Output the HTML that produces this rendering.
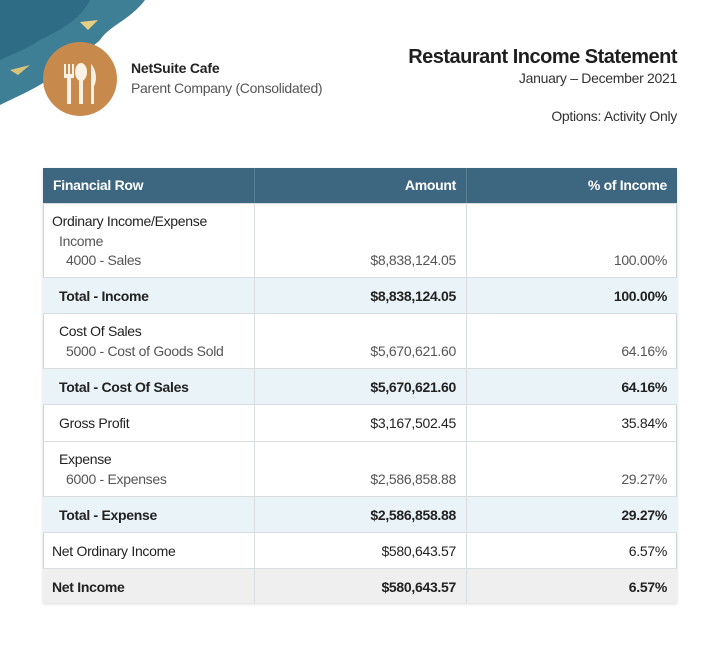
<!DOCTYPE html>
<html><head><style>
*{margin:0;padding:0;box-sizing:border-box}
body{width:720px;height:646px;background:#fff;font-family:"Liberation Sans",sans-serif;position:relative;overflow:hidden;color:#222}
.a{position:absolute;white-space:nowrap}
.row{position:absolute;left:43px;width:634px;border-top:1px solid #d8dde0}
.c{position:absolute;font-size:14px;letter-spacing:-0.3px}
.b{font-weight:bold}
</style></head><body>
<svg class="a" style="left:0;top:0" width="160" height="120">
<path d="M0 0 H145 C130 20 110 25 100 40 C90 50 75 55 60 70 C45 85 20 95 0 105 Z" fill="#3f7f95"/>
<path d="M0 0 H90 C80 20 60 30 40 40 C25 50 10 55 0 60 Z" fill="#2e6b84"/>
<path d="M80 22 L98 20 L88 30 Z" fill="#e6cf85"/>
<path d="M10 70 L30 65 L18 75 Z" fill="#d9c27a"/>
</svg>
<div class="a" style="left:43px;top:42px;width:74px;height:74px;border-radius:50%;background:#c88a4c"></div>
<svg class="a" style="left:43px;top:42px" width="74" height="74">
<g fill="#fbf1e4"><rect x="21" y="22" width="2" height="12"/><rect x="25" y="22" width="2" height="12"/><rect x="29" y="22" width="2" height="12"/><rect x="21" y="32" width="10" height="4"/><rect x="24" y="34" width="4" height="28"/>
<ellipse cx="38" cy="30" rx="6" ry="9"/><rect x="36" y="36" width="4" height="26"/>
<path d="M48 22 C54 28 54 40 51 44 V62 H48 Z"/></g></svg>
<div class="a b" style="left:131px;top:60px;font-size:14px;color:#222;letter-spacing:-0.2px">NetSuite Cafe</div>
<div class="a" style="left:131px;top:80px;font-size:14px;color:#555;letter-spacing:-0.3px">Parent Company (Consolidated)</div>
<div class="a b" style="right:43px;top:46px;font-size:20px;color:#1e1e1e;letter-spacing:-0.5px">Restaurant Income Statement</div>
<div class="a" style="right:43px;top:70px;font-size:14px;color:#333;letter-spacing:-0.3px">January – December 2021</div>
<div class="a" style="right:43px;top:108px;font-size:14px;color:#333;letter-spacing:-0.3px">Options: Activity Only</div>
<div class="a" style="left:43px;top:168px;width:634px;height:435px;border:1px solid #d0d6da;box-shadow:0 1px 3px rgba(0,0,0,.15)"></div>
<div class="a" style="left:43px;top:168px;width:634px;height:35px;background:#3d6680;color:#fff;font-size:14px;font-weight:bold;letter-spacing:-0.3px">
<span class="a" style="left:10px;top:9px">Financial Row</span>
<span class="a" style="right:221px;top:9px">Amount</span>
<span class="a" style="right:10px;top:9px">% of Income</span>
<div class="a" style="left:211px;top:0;width:1px;height:35px;background:#5b7f95"></div>
<div class="a" style="left:423px;top:0;width:1px;height:35px;background:#5b7f95"></div>
</div>

<div class="row" style="top:203px;height:74px"><span class="c a" style="left:9px;top:9px">Ordinary Income/Expense</span><span class="c a" style="left:16px;top:29px;color:#555">Income</span><span class="c a" style="left:23px;top:48px;color:#555">4000 - Sales</span><span class="c a" style="right:221px;top:48px;color:#555">$8,838,124.05</span><span class="c a" style="right:10px;top:48px;color:#555">100.00%</span></div>
<div class="row" style="top:277px;height:36px;background:#eaf3f8"><span class="c a b" style="left:16px;top:10px">Total - Income</span><span class="c a b" style="right:221px;top:10px">$8,838,124.05</span><span class="c a b" style="right:10px;top:10px">100.00%</span></div>
<div class="row" style="top:313px;height:55px"><span class="c a" style="left:16px;top:9px">Cost Of Sales</span><span class="c a" style="left:23px;top:29px;color:#555">5000 - Cost of Goods Sold</span><span class="c a" style="right:221px;top:29px;color:#555">$5,670,621.60</span><span class="c a" style="right:10px;top:29px;color:#555">64.16%</span></div>
<div class="row" style="top:368px;height:36px;background:#eaf3f8"><span class="c a b" style="left:16px;top:10px">Total - Cost Of Sales</span><span class="c a b" style="right:221px;top:10px">$5,670,621.60</span><span class="c a b" style="right:10px;top:10px">64.16%</span></div>
<div class="row" style="top:404px;height:37px"><span class="c a" style="left:16px;top:10px">Gross Profit</span><span class="c a" style="right:221px;top:10px">$3,167,502.45</span><span class="c a" style="right:10px;top:10px">35.84%</span></div>
<div class="row" style="top:441px;height:55px"><span class="c a" style="left:16px;top:9px">Expense</span><span class="c a" style="left:23px;top:29px;color:#555">6000 - Expenses</span><span class="c a" style="right:221px;top:29px;color:#555">$2,586,858.88</span><span class="c a" style="right:10px;top:29px;color:#555">29.27%</span></div>
<div class="row" style="top:496px;height:36px;background:#eaf3f8"><span class="c a b" style="left:16px;top:10px">Total - Expense</span><span class="c a b" style="right:221px;top:10px">$2,586,858.88</span><span class="c a b" style="right:10px;top:10px">29.27%</span></div>
<div class="row" style="top:532px;height:36px"><span class="c a" style="left:9px;top:10px">Net Ordinary Income</span><span class="c a" style="right:221px;top:10px">$580,643.57</span><span class="c a" style="right:10px;top:10px">6.57%</span></div>
<div class="row" style="top:568px;height:35px;background:#efefef"><span class="c a b" style="left:9px;top:10px">Net Income</span><span class="c a b" style="right:221px;top:10px">$580,643.57</span><span class="c a b" style="right:10px;top:10px">6.57%</span></div>
<div class="a" style="left:254px;top:203px;width:1px;height:400px;background:#d8dde0"></div>
<div class="a" style="left:466px;top:203px;width:1px;height:400px;background:#d8dde0"></div>
</body></html>
